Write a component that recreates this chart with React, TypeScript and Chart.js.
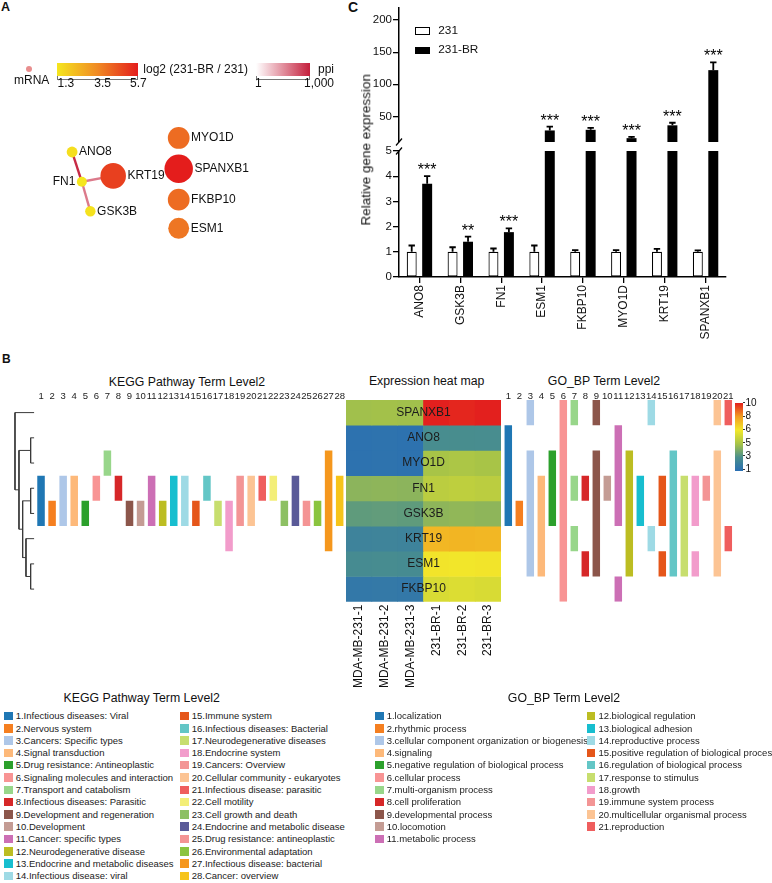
import React, { useEffect, useRef } from 'react';
import { Chart, registerables } from 'chart.js';

Chart.register(...registerables);

const FONT = "'Liberation Sans', Arial, Helvetica, sans-serif";
Chart.defaults.font.family = FONT;
Chart.defaults.color = '#111';

// ================= Panel A : network =================
const netGenes = ['ANO8', 'FN1', 'GSK3B', 'KRT19', 'MYO1D', 'SPANXB1', 'FKBP10', 'ESM1'];
const netLayoutX = [63.3, 74, 83.3, 108.3, 180, 180, 180, 180];
const netLayoutY = [154, 187.3, 220.3, 180.7, 138.3, 172.7, 207.3, 239.3];
const netLog2FC = [1.5, 1.3, 1.4, 5.0, 4.1, 5.7, 4.1, 3.9];
const netEdgeFrom = ['ANO8', 'FN1', 'FN1'];
const netEdgeTo = ['FN1', 'KRT19', 'GSK3B'];
const netEdgePpi = [700, 60, 60];
const fcTicks = ['1.3', '3.5', '5.7'];
const ppiTicks = ['1', '1,000'];

// ================= Panel C : qPCR =================
const genesC = ['ANO8', 'GSK3B', 'FN1', 'ESM1', 'FKBP10', 'MYO1D', 'KRT19', 'SPANXB1'];
const mean231 = [1, 1, 1, 1, 1, 1, 1, 1];
const sd231 = [0.25, 0.18, 0.13, 0.25, 0.07, 0.07, 0.12, 0.06];
const mean231BR = [3.7, 1.4, 1.78, 28, 29, 16, 36, 122];
const sd231BR = [0.3, 0.2, 0.15, 6, 3, 2, 4, 12];
const signif = ['***', '**', '***', '***', '***', '***', '***', '***'];
const upperTicks = [50, 100, 150, 200];
const lowerTicks = [0, 1, 2, 3, 4, 5];

// ================= Panel B : heat map & annotations =================
const heatGenes = ['SPANXB1', 'ANO8', 'MYO1D', 'FN1', 'GSK3B', 'KRT19', 'ESM1', 'FKBP10'];
const heatSamples = ['MDA-MB-231-1', 'MDA-MB-231-2', 'MDA-MB-231-3', '231-BR-1', '231-BR-2', '231-BR-3'];
const heatValues = [
  [4.85, 4.9, 4.85, 10, 9.9, 10],
  [1.2, 1.25, 1.2, 2.85, 2.9, 2.85],
  [1.2, 1.25, 1.2, 5.0, 5.05, 5.0],
  [4.4, 4.45, 4.4, 5.25, 5.3, 5.25],
  [3.45, 3.5, 3.45, 4.45, 4.5, 4.45],
  [2.25, 2.3, 2.25, 7.3, 7.35, 7.3],
  [2.75, 2.8, 2.75, 6.1, 6.05, 6.1],
  [1.55, 1.6, 1.55, 5.65, 5.7, 5.65],
];
const colorbarTicks = [10, 8, 6, 5, 3, 1];
// hierarchical clustering of heat-map rows: [childA, childB, height]
const dendroMerges = [
  [6, 7, 1.1],
  [3, 4, 1.1],
  [1, 2, 1.1],
  [5, 8, 2.5],
  [9, 11, 3.5],
  [10, 12, 4.6],
  [0, 13, 5.8],
];

const keggNames = [
  '1.Infectious diseases: Viral', '2.Nervous system', '3.Cancers: Specific types', '4.Signal transduction',
  '5.Drug resistance: Antineoplastic', '6.Signaling molecules and interaction', '7.Transport and catabolism',
  '8.Infectious diseases: Parasitic', '9.Development and regeneration', '10.Development', '11.Cancer: specific types',
  '12.Neurodegenerative disease', '13.Endocrine and metabolic diseases', '14.Infectious disease: viral',
  '15.Immune system', '16.Infectious diseases: Bacterial', '17.Neurodegenerative diseases', '18.Endocrine system',
  '19.Cancers: Overview', '20.Cellular community - eukaryotes', '21.Infectious disease: parasitic', '22.Cell motility',
  '23.Cell growth and death', '24.Endocrine and metabolic disease', '25.Drug resistance: antineoplastic',
  '26.Environmental adaptation', '27.Infectious disease: bacterial', '28.Cancer: overview',
];
// heat-map rows (gene index in heatGenes) annotated to each KEGG term
const keggRows = [
  [3, 4], [4], [3, 4], [3, 4], [4], [3], [2], [3], [4], [4], [3, 4], [4], [3, 4], [3, 4],
  [4], [3], [4], [4, 5], [3, 4], [3, 4], [3], [3], [4], [3, 4], [4], [4], [2, 3, 4, 5], [3, 4],
];
const goNames = [
  '1.localization', '2.rhythmic process', '3.cellular component organization or biogenesis', '4.signaling',
  '5.negative regulation of biological process', '6.cellular process', '7.multi-organism process',
  '8.cell proliferation', '9.developmental process', '10.locomotion', '11.metabolic process',
  '12.biological regulation', '13.biological adhesion', '14.reproductive process',
  '15.positive regulation of biological process', '16.regulation of biological process', '17.response to stimulus',
  '18.growth', '19.immune system process', '20.multicellular organismal process', '21.reproduction',
];
const goRows = [
  [1, 2, 3, 4], [4], [0, 2, 3, 4, 5, 6], [3, 4, 5, 6], [2, 3, 4], [0, 1, 2, 3, 4, 5, 6, 7], [0, 3, 5], [3, 6],
  [0, 2, 3, 4, 5, 6], [3], [1, 2, 3, 4, 7], [2, 3, 4, 5, 6], [3, 4], [0, 5], [3, 4, 6], [2, 3, 4, 5, 6],
  [3, 4, 5, 6], [3, 4, 6], [3], [0, 2, 3, 4, 5, 6], [0, 5],
];

// ================= styles =================
const termPalette = [
  '#1f77b4', '#f57f20', '#aec7e8', '#fdb97a', '#2ca02c', '#f89494', '#98d68a', '#d62728', '#8c564b', '#c49c94',
  '#cc6fb5', '#bcbd22', '#17becf', '#9edae5', '#e5561a', '#63c6c6', '#c7de6e', '#f29ccb', '#f39595', '#fcc494',
  '#ef5e5e', '#f3ee78', '#8dc063', '#5a5a98', '#f49494', '#8bc43f', '#f5971d', '#f6c41a',
];
const heatStops = [1, 3, 5, 6, 8, 10];
const heatStopColors = ['#2a6fb3', '#4a8f8c', '#a8c447', '#f2e82a', '#f29d20', '#e3201e'];
const fcStops = [1.3, 3.5, 5.7];
const fcColors = ['#f5e61e', '#f08a24', '#e41d1c'];

function hexRgb(c: string) {
  return [parseInt(c.slice(1, 3), 16), parseInt(c.slice(3, 5), 16), parseInt(c.slice(5, 7), 16)];
}
function ramp(v: number, stops: number[], colors: string[]) {
  let k = 0;
  while (k < stops.length - 2 && v > stops[k + 1]) k++;
  const t = Math.max(0, Math.min(1, (v - stops[k]) / (stops[k + 1] - stops[k])));
  const a = hexRgb(colors[k]);
  const b = hexRgb(colors[k + 1]);
  const m = a.map((x, i) => Math.round(x + (b[i] - x) * t));
  return `rgb(${m[0]},${m[1]},${m[2]})`;
}
function ppiColor(v: number) {
  return ramp(Math.log10(v) / 3, [0, 1], ['#ffffff', '#c41f3c']);
}

function segments(rows: number[]): [number, number][] {
  const out: [number, number][] = [];
  let s = rows[0];
  let p = rows[0];
  for (let k = 1; k < rows.length; k++) {
    if (rows[k] === p + 1) p = rows[k];
    else {
      out.push([s, p + 1]);
      s = p = rows[k];
    }
  }
  out.push([s, p + 1]);
  return out;
}
function segDatasets(termRows: number[][]) {
  const segs = termRows.map(segments);
  const n = Math.max(...segs.map((s) => s.length));
  return Array.from({ length: n }, (_, k) => ({
    data: segs.map((s) => (s[k] ? s[k] : null)),
    backgroundColor: termPalette.slice(0, termRows.length),
    grouped: false,
    barPercentage: 0.68,
    categoryPercentage: 1,
    borderWidth: 0,
  }));
}

const noInteract = {
  responsive: true,
  maintainAspectRatio: false,
  animation: false,
  events: [],
};

// ================= plugins =================
const errorBarPlugin = {
  id: 'errorBars',
  afterDatasetsDraw(chart: any) {
    const { ctx, chartArea: a, scales } = chart;
    const ys = scales.y;
    ctx.save();
    ctx.beginPath();
    ctx.rect(a.left, a.top, a.right - a.left, a.bottom - a.top);
    ctx.clip();
    ctx.strokeStyle = '#000';
    ctx.lineWidth = 1.8;
    chart.data.datasets.forEach((ds: any, di: number) => {
      const meta = chart.getDatasetMeta(di);
      meta.data.forEach((bar: any, i: number) => {
        const m = ds.data[i];
        const top = m + ds.errors[i];
        const yb = ys.getPixelForValue(m);
        const yt = ys.getPixelForValue(top);
        ctx.beginPath();
        ctx.moveTo(bar.x, yb);
        ctx.lineTo(bar.x, yt);
        ctx.moveTo(bar.x - 3.2, yt);
        ctx.lineTo(bar.x + 3.2, yt);
        ctx.stroke();
      });
    });
    const dsBR = chart.data.datasets[1];
    const metaBR = chart.getDatasetMeta(1);
    ctx.fillStyle = '#000';
    ctx.font = `16px ${FONT}`;
    ctx.textAlign = 'center';
    ctx.textBaseline = 'alphabetic';
    metaBR.data.forEach((bar: any, i: number) => {
      const top = dsBR.data[i] + dsBR.errors[i];
      if (top < ys.min || top > ys.max) return;
      ctx.fillText(signif[i], bar.x, ys.getPixelForValue(top) - 1);
    });
    ctx.restore();
  },
};

const axisBreakPlugin = {
  id: 'axisBreak',
  afterDraw(chart: any, _args: any, opts: any) {
    const { ctx, chartArea: a } = chart;
    const yy = opts.edge === 'bottom' ? a.bottom : a.top;
    ctx.save();
    ctx.strokeStyle = '#000';
    ctx.lineWidth = 1.2;
    ctx.beginPath();
    ctx.moveTo(a.left - 3, yy + 3.5);
    ctx.lineTo(a.left + 3, yy - 3.5);
    ctx.stroke();
    ctx.restore();
  },
};

const heatLabelPlugin = {
  id: 'heatLabels',
  afterDatasetsDraw(chart: any) {
    const { ctx, chartArea: a, scales } = chart;
    ctx.save();
    ctx.font = `12px ${FONT}`;
    ctx.fillStyle = '#1c1c1c';
    ctx.textAlign = 'center';
    ctx.textBaseline = 'middle';
    heatGenes.forEach((g, r) => ctx.fillText(g, (a.left + a.right) / 2, scales.y.getPixelForValue(r + 0.5)));
    ctx.restore();
  },
};

const netLabelSide = ['right', 'left', 'right', 'right', 'right', 'right', 'right', 'right'];
const nodeLabelPlugin = {
  id: 'nodeLabels',
  afterDatasetsDraw(chart: any) {
    const { ctx } = chart;
    const di = chart.data.datasets.length - 1;
    const meta = chart.getDatasetMeta(di);
    const ds = chart.data.datasets[di];
    ctx.save();
    ctx.font = `12px ${FONT}`;
    ctx.fillStyle = '#111';
    ctx.textBaseline = 'middle';
    meta.data.forEach((pt: any, i: number) => {
      const r = ds.data[i].r;
      if (netLabelSide[i] === 'left') {
        ctx.textAlign = 'right';
        ctx.fillText(netGenes[i], pt.x - r - 1.5, pt.y);
      } else {
        ctx.textAlign = 'left';
        ctx.fillText(netGenes[i], pt.x + r + 1.5, pt.y);
      }
    });
    ctx.restore();
  },
};

// ================= chart configs =================
function networkConfig() {
  const idx = (g: string) => netGenes.indexOf(g);
  const edges = netEdgeFrom.map((f, k) => ({
    type: 'line',
    data: [
      { x: netLayoutX[idx(f)], y: netLayoutY[idx(f)] },
      { x: netLayoutX[idx(netEdgeTo[k])], y: netLayoutY[idx(netEdgeTo[k])] },
    ],
    borderColor: ppiColor(netEdgePpi[k]),
    borderWidth: 2.4,
    pointRadius: 0,
    order: 2,
  }));
  const nodes = {
    type: 'bubble',
    data: netGenes.map((_, i) => ({ x: netLayoutX[i], y: netLayoutY[i], r: 5 + (netLog2FC[i] - 1.3) * 2.1 })),
    backgroundColor: netLog2FC.map((v) => ramp(v, fcStops, fcColors)),
    borderWidth: 0,
    order: 1,
  };
  return {
    type: 'bubble',
    data: { datasets: [...edges, nodes] },
    options: {
      ...noInteract,
      layout: { padding: 0 },
      plugins: { legend: { display: false }, tooltip: { enabled: false } },
      scales: {
        x: { type: 'linear', min: 0, max: 330, display: false },
        y: { type: 'linear', min: 0, max: 270, reverse: true, display: false },
      },
    },
    plugins: [nodeLabelPlugin],
  };
}

function qpcrDatasets() {
  return [
    {
      label: '231',
      data: mean231,
      errors: sd231,
      backgroundColor: '#ffffff',
      borderColor: '#000',
      borderWidth: 1.2,
      borderSkipped: false,
      clip: 0,
      categoryPercentage: 0.756,
      barPercentage: 0.645,
    },
    {
      label: '231-BR',
      data: mean231BR,
      errors: sd231BR,
      backgroundColor: '#000',
      borderWidth: 0,
      clip: 0,
      categoryPercentage: 0.756,
      barPercentage: 0.645,
    },
  ];
}

const yAxisCommon = {
  grid: { drawOnChartArea: false, tickLength: 6, color: '#000', lineWidth: 1.3 },
  border: { display: true, color: '#000', width: 1.5 },
  ticks: { padding: 1, font: { size: 11.5 }, color: '#111' },
  afterFit: (s: any) => {
    s.width = 69;
  },
};

function upperConfig() {
  return {
    type: 'bar',
    data: { labels: genesC, datasets: qpcrDatasets() },
    options: {
      ...noInteract,
      layout: { padding: { top: 7, bottom: 8, left: 0, right: 24 } },
      plugins: { legend: { display: false }, tooltip: { enabled: false }, axisBreak: { edge: 'bottom' } },
      scales: {
        x: { display: false },
        y: {
          ...yAxisCommon,
          min: 10,
          max: 219,
          afterBuildTicks: (s: any) => {
            s.ticks = upperTicks.map((v) => ({ value: v }));
          },
        },
      },
    },
    plugins: [errorBarPlugin, axisBreakPlugin],
  };
}

function lowerConfig() {
  return {
    type: 'bar',
    data: { labels: genesC, datasets: qpcrDatasets() },
    options: {
      ...noInteract,
      layout: { padding: { top: 8, bottom: 0, left: 0, right: 24 } },
      plugins: { legend: { display: false }, tooltip: { enabled: false }, axisBreak: { edge: 'top' } },
      scales: {
        x: {
          grid: { display: true, drawOnChartArea: false, offset: false, tickLength: 6, color: '#000', lineWidth: 1.3 },
          border: { display: true, color: '#000', width: 1.5 },
          ticks: { minRotation: 90, maxRotation: 90, padding: 2, font: { size: 12 }, color: '#111', autoSkip: false },
          afterFit: (s: any) => {
            s.height = 69;
          },
        },
        y: {
          ...yAxisCommon,
          min: 0,
          max: 5,
          afterBuildTicks: (s: any) => {
            s.ticks = lowerTicks.map((v) => ({ value: v }));
          },
        },
      },
    },
    plugins: [errorBarPlugin, axisBreakPlugin],
  };
}

function termConfig(termRows: number[][], padL: number, padR: number) {
  return {
    type: 'bar',
    data: { labels: termRows.map((_, i) => String(i + 1)), datasets: segDatasets(termRows) },
    options: {
      ...noInteract,
      layout: { padding: { left: padL, right: padR, top: 0, bottom: 8.3 } },
      plugins: { legend: { display: false }, tooltip: { enabled: false } },
      scales: {
        x: {
          position: 'top',
          grid: { display: false, drawTicks: false, tickLength: 0 },
          border: { display: false },
          ticks: { padding: -2, font: { size: 9.5 }, color: '#222', maxRotation: 0, autoSkip: false },
          afterFit: (s: any) => {
            s.height = 15;
          },
        },
        y: { display: false, min: 0, max: 8, reverse: true },
      },
    },
  };
}

function heatConfig() {
  return {
    type: 'bar',
    data: {
      labels: heatSamples,
      datasets: heatGenes.map((g, r) => ({
        label: g,
        data: heatSamples.map(() => [r, r + 1]),
        backgroundColor: heatValues[r].map((v) => ramp(v, heatStops, heatStopColors)),
        grouped: false,
        barPercentage: 1,
        categoryPercentage: 1,
        borderWidth: 0,
      })),
    },
    options: {
      ...noInteract,
      layout: { padding: { left: 6, right: 9, top: 5, bottom: 0 } },
      plugins: { legend: { display: false }, tooltip: { enabled: false } },
      scales: {
        x: {
          grid: { display: false, drawTicks: false, tickLength: 0 },
          border: { display: false },
          ticks: { minRotation: 90, maxRotation: 90, padding: 3, font: { size: 12 }, color: '#111', autoSkip: false },
          afterFit: (s: any) => {
            s.height = 93.3;
          },
        },
        y: { display: false, min: 0, max: 8, reverse: true },
      },
    },
    plugins: [heatLabelPlugin],
  };
}

function dendroConfig() {
  const pos: { y: number; h: number }[] = heatGenes.map((_, i) => ({ y: i + 0.5, h: 0 }));
  const lines: { x: number; y: number }[][] = [];
  dendroMerges.forEach(([a, b, h]) => {
    const A = pos[a];
    const B = pos[b];
    lines.push([{ x: A.h, y: A.y }, { x: h, y: A.y }]);
    lines.push([{ x: B.h, y: B.y }, { x: h, y: B.y }]);
    lines.push([{ x: h, y: A.y }, { x: h, y: B.y }]);
    pos.push({ y: (A.y + B.y) / 2, h });
  });
  return {
    type: 'scatter',
    data: {
      datasets: lines.map((seg) => ({
        data: seg,
        showLine: true,
        borderColor: '#3a3a3a',
        borderWidth: 1,
        pointRadius: 0,
      })),
    },
    options: {
      ...noInteract,
      layout: { padding: { left: 0, right: 5.7, top: 5, bottom: 8.3 } },
      plugins: { legend: { display: false }, tooltip: { enabled: false } },
      scales: {
        x: { type: 'linear', min: 0, max: 10.3, reverse: true, display: false },
        y: { type: 'linear', min: 0, max: 8, reverse: true, display: false },
      },
    },
  };
}

// ================= React helpers =================
function ChartBox({ x, y, w, h, make }: { x: number; y: number; w: number; h: number; make: () => any }) {
  const ref = useRef<HTMLCanvasElement>(null);
  useEffect(() => {
    const chart = new Chart(ref.current as HTMLCanvasElement, make());
    return () => chart.destroy();
  }, []);
  return (
    <div style={{ position: 'absolute', left: x, top: y, width: w, height: h }}>
      <canvas ref={ref} />
    </div>
  );
}

function Txt({
  x, y, size, align = 'left', bold = false, color = '#111', rotate = false, children,
}: {
  x: number; y: number; size: number; align?: 'left' | 'center' | 'right'; bold?: boolean; color?: string;
  rotate?: boolean; children: React.ReactNode;
}) {
  const tx = align === 'left' ? '0' : align === 'center' ? '-50%' : '-100%';
  return (
    <div
      style={{
        position: 'absolute',
        left: x,
        top: y - size / 2,
        height: size,
        fontSize: size,
        lineHeight: `${size}px`,
        fontFamily: FONT,
        fontWeight: bold ? 700 : 400,
        color,
        whiteSpace: 'nowrap',
        transform: rotate ? 'translate(-50%,0) rotate(-90deg)' : `translateX(${tx})`,
        transformOrigin: 'center',
      }}
    >
      {children}
    </div>
  );
}

function Box({ x, y, w, h, style }: { x: number; y: number; w: number; h: number; style?: React.CSSProperties }) {
  return <div style={{ position: 'absolute', left: x, top: y, width: w, height: h, boxSizing: 'border-box', ...style }} />;
}

function TermLegend({ names, split, col1, col2 }: { names: string[]; split: number; col1: number; col2: number }) {
  return (
    <>
      {names.map((n, i) => {
        const col = i < split ? col1 : col2;
        const row = i < split ? i : i - split;
        const cy = 716 + row * 12.3;
        return (
          <React.Fragment key={n}>
            <Box x={col} y={cy - 4.3} w={8.6} h={8.6} style={{ background: termPalette[i] }} />
            <Txt x={col + 11.7} y={cy} size={9.5} color="#222">
              {n}
            </Txt>
          </React.Fragment>
        );
      })}
    </>
  );
}

export default function App() {
  const heatGradient = `linear-gradient(to top, ${heatStopColors
    .map((c, i) => `${c} ${(i / (heatStopColors.length - 1)) * 100}%`)
    .join(', ')})`;
  return (
    <div
      style={{
        position: 'absolute', left: 0, top: 0, width: 772, height: 883, background: '#fff', overflow: 'hidden', fontFamily: FONT,
      }}
    >
      {/* ---------- Panel A ---------- */}
      <Txt x={1} y={7.5} size={12.5} bold>A</Txt>
      <ChartBox x={0} y={0} w={330} h={270} make={networkConfig} />
      <Box x={26.3} y={66.3} w={6} h={6} style={{ borderRadius: '50%', background: '#e88e8e' }} />
      <Txt x={14} y={79.5} size={12}>mRNA</Txt>
      <Box x={57.3} y={62.7} w={81} h={13} style={{ background: `linear-gradient(to right, ${fcColors.join(', ')})` }} />
      <Box x={57.3} y={76} w={81} h={3.5} style={{ borderLeft: '1px solid #777', borderRight: '1px solid #777', borderBottom: '1px solid #777' }} />
      <Txt x={57.5} y={83.3} size={12}>{fcTicks[0]}</Txt>
      <Txt x={102.7} y={83.3} size={12} align="center">{fcTicks[1]}</Txt>
      <Txt x={138.3} y={83.3} size={12} align="center">{fcTicks[2]}</Txt>
      <Txt x={143.3} y={69} size={12}>log2 (231-BR / 231)</Txt>
      <Box x={256} y={62.7} w={54} h={13} style={{ background: 'linear-gradient(to right, #ffffff, #c41f3c)' }} />
      <Box x={256} y={76} w={54} h={3.5} style={{ borderLeft: '1px solid #777', borderRight: '1px solid #777', borderBottom: '1px solid #777' }} />
      <Txt x={258.3} y={83.3} size={12} align="center">{ppiTicks[0]}</Txt>
      <Txt x={304} y={83.3} size={12}>{ppiTicks[1]}</Txt>
      <Txt x={318} y={69} size={12}>ppi</Txt>

      {/* ---------- Panel C ---------- */}
      <Txt x={348} y={6.7} size={14} bold>C</Txt>
      <ChartBox x={330} y={0} w={420} h={150} make={upperConfig} />
      <ChartBox x={330} y={143} w={420} h={203} make={lowerConfig} />
      <Txt x={366} y={150} size={13.5} rotate>Relative gene expression</Txt>
      <Box x={415} y={27.3} w={15} h={7.5} style={{ border: '1.2px solid #000', background: '#fff' }} />
      <Txt x={438.3} y={31} size={11.8}>231</Txt>
      <Box x={415} y={46.5} w={15} h={7} style={{ background: '#000' }} />
      <Txt x={438.3} y={50} size={11.8}>231-BR</Txt>

      {/* ---------- Panel B ---------- */}
      <Txt x={2} y={359} size={12} bold>B</Txt>
      <Txt x={187} y={381.7} size={12.3} align="center">KEGG Pathway Term Level2</Txt>
      <Txt x={426.7} y={380.7} size={12.3} align="center">Expression heat map</Txt>
      <Txt x={604} y={380.7} size={12.3} align="center">GO_BP Term Level2</Txt>
      <ChartBox x={0} y={395} w={40} h={215} make={dendroConfig} />
      <ChartBox x={30} y={385} w={320} h={225} make={() => termConfig(keggRows, 5.5, 4.8)} />
      <ChartBox x={495} y={385} w={245} h={225} make={() => termConfig(goRows, 7.8, 6.2)} />
      <ChartBox x={340} y={395} w={170} h={300} make={heatConfig} />
      <Box x={735.3} y={403.3} w={8} h={67.7} style={{ background: heatGradient }} />
      {colorbarTicks.map((t, k) => (
        <React.Fragment key={t}>
          <Box x={743.3} y={402.7 + k * 13.3 - 0.5} w={2} h={1} style={{ background: '#333' }} />
          <Txt x={745.5} y={402.7 + k * 13.3} size={10}>{String(t)}</Txt>
        </React.Fragment>
      ))}

      {/* ---------- Legends ---------- */}
      <Txt x={141.7} y={697.7} size={12.3} align="center">KEGG Pathway Term Level2</Txt>
      <Txt x={564} y={697.7} size={12.3} align="center">GO_BP Term Level2</Txt>
      <TermLegend names={keggNames} split={14} col1={4} col2={180} />
      <TermLegend names={goNames} split={11} col1={375} col2={586.7} />
    </div>
  );
}
